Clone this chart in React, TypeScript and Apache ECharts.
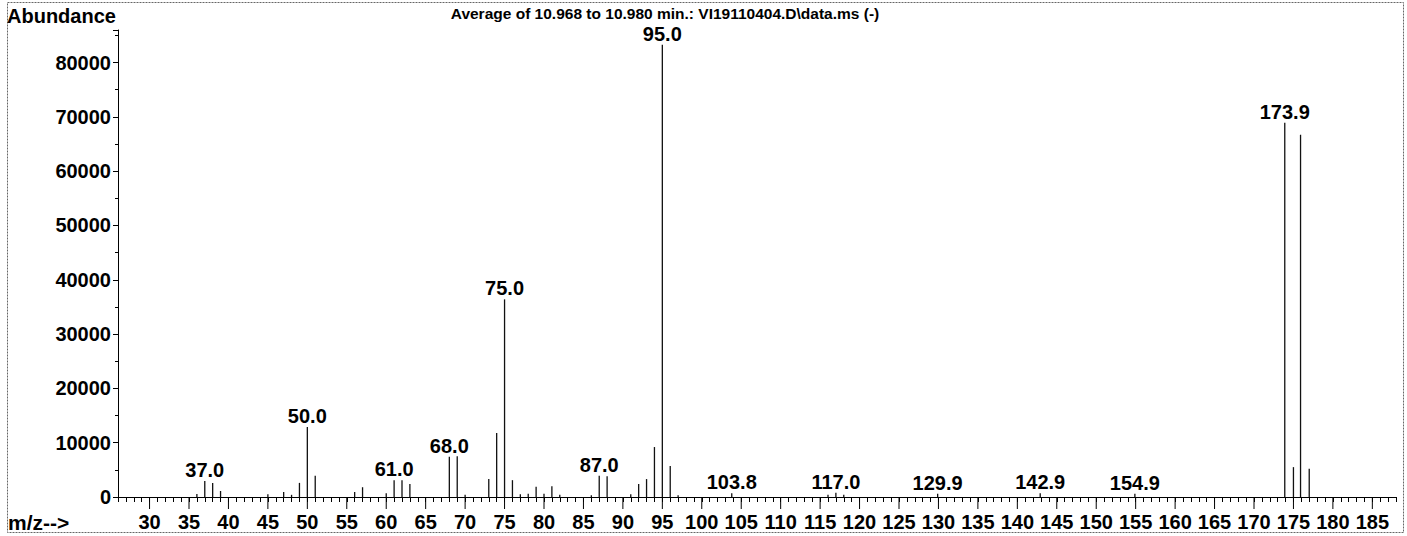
import React, { useEffect, useRef } from "react";
import * as echarts from "echarts";

// m/z values of the peaks and their abundances
const peakMz = [
  36, 37, 38, 39, 45, 47, 48, 49, 50, 51, 56, 57, 60, 61, 62, 63, 68, 69, 70,
  73, 74, 75, 76, 77, 78, 79, 80, 81, 82, 86, 87, 88, 91, 92, 93, 94, 95, 96, 97,
  103.8, 116, 117.0, 118, 129.9, 142.9, 154.9, 173.9, 175, 175.9, 177,
];
const peakAbundance = [
  550, 2950, 2600, 1100, 500, 900, 400, 2600, 12900, 3900, 900, 1800, 700, 3100, 3100, 2400, 7400, 7500, 400,
  3300, 11800, 36400, 3100, 500, 600, 1900, 600, 2000, 400, 300, 3900, 3800, 500, 2400, 3300, 9200, 83300, 5700, 300,
  700, 400, 800, 400, 600, 700, 600, 68900, 5500, 66700, 5200,
];
// peaks that carry an m/z label
const labelledMz = [37.0, 50.0, 61.0, 68.0, 75.0, 87.0, 95.0, 103.8, 117.0, 129.9, 142.9, 154.9, 173.9];
// x tick labels
const xTickLabels = [
  30, 35, 40, 45, 50, 55, 60, 65, 70, 75, 80, 85, 90, 95, 100, 105, 110, 115, 120,
  125, 130, 135, 140, 145, 150, 155, 160, 165, 170, 175, 180, 185,
];
// y tick labels
const yTickLabels = [0, 10000, 20000, 30000, 40000, 50000, 60000, 70000, 80000];

const TITLE = "Average of 10.968 to 10.980 min.: VI19110404.D\\data.ms (-)";
const FONT = "'Liberation Sans', Arial, sans-serif";

export default function App() {
  const ref = useRef<HTMLDivElement>(null);
  useEffect(() => {
    document.body.style.margin = "0";
    const chart = echarts.init(ref.current!, null, { renderer: "svg" });
    const peaks = peakMz.map((m, i) => [m, peakAbundance[i]]);
    const labels = labelledMz.map((m) => {
      const i = peakMz.findIndex((v) => Math.abs(v - m) < 1e-6);
      return [m, peakAbundance[i]];
    });
    chart.setOption({
      animation: false,
      backgroundColor: "#fff",
      grid: { left: 118, right: 11, top: 30, bottom: 39 },
      xAxis: {
        type: "value",
        min: 26,
        max: 188,
        interval: 1,
        axisLine: { show: true, lineStyle: { color: "#000", width: 1 } },
        axisTick: { show: true, length: 5, lineStyle: { color: "#000", width: 1 } },
        splitLine: { show: false },
        axisLabel: {
          margin: 15,
          fontFamily: FONT,
          fontSize: 20,
          fontWeight: "bold",
          color: "#000",
          formatter: (v: number) => (xTickLabels.includes(Math.round(v)) && Math.abs(v - Math.round(v)) < 1e-6 ? String(Math.round(v)) : ""),
        },
      },
      yAxis: {
        type: "value",
        min: 0,
        max: 86000,
        interval: 10000,
        axisLine: { show: true, lineStyle: { color: "#000", width: 1 } },
        axisTick: { show: true, length: 5, lineStyle: { color: "#000" } },
        minorTick: { show: true, splitNumber: 2, length: 3, lineStyle: { color: "#000" } },
        splitLine: { show: false },
        axisLabel: {
          margin: 7,
          showMaxLabel: false,
          fontFamily: FONT,
          fontSize: 20,
          fontWeight: "bold",
          color: "#000",
          formatter: (v: number) => (yTickLabels.includes(v) ? String(v) : ""),
        },
      },
      series: [
        {
          type: "custom",
          clip: false,
          data: xTickLabels.map((v) => [v, 0]),
          renderItem: (params: any, api: any) => {
            const p = api.coord([api.value(0), 0]);
            return {
              type: "line",
              shape: { x1: p[0], y1: p[1], x2: p[0], y2: p[1] + 12 },
              style: { stroke: "#000", lineWidth: 1 },
            };
          },
          silent: true,
        },
        {
          type: "custom",
          data: peaks,
          renderItem: (params: any, api: any) => {
            const x = api.value(0);
            const y = api.value(1);
            const p0 = api.coord([x, 0]);
            const p1 = api.coord([x, y]);
            return {
              type: "line",
              shape: { x1: p0[0], y1: p0[1], x2: p1[0], y2: p1[1] },
              style: { stroke: "#111", lineWidth: 1.3 },
            };
          },
        },
        {
          type: "scatter",
          symbolSize: 0,
          itemStyle: { opacity: 1, color: "#000" },
          data: labels,
          label: {
            show: true,
            position: "top",
            distance: 1,
            opacity: 1,
            fontFamily: FONT,
            fontSize: 20,
            fontWeight: "bold",
            color: "#000",
            textBorderWidth: 0,
            formatter: (p: any) => Number(p.value[0]).toFixed(1),
          },
        },
      ],
      graphic: [
        {
          type: "rect",
          shape: { x: 7.5, y: 2.5, width: 1396, height: 530 },
          style: { fill: "none", stroke: "#666", lineWidth: 1, lineDash: [2, 1] },
          silent: true,
        },
        {
          type: "text",
          style: { text: TITLE, x: 665, y: 13, textAlign: "center", textVerticalAlign: "middle", font: `bold 15.5px ${FONT}`, fill: "#000" },
        },
        {
          type: "text",
          style: { text: "Abundance", x: 7, y: 16, textAlign: "left", textVerticalAlign: "middle", font: `bold 20px ${FONT}`, fill: "#000" },
        },
        {
          type: "text",
          style: { text: "m/z-->", x: 8, y: 522, textAlign: "left", textVerticalAlign: "middle", font: `bold 21px ${FONT}`, fill: "#000" },
        },
      ],
    });
    return () => chart.dispose();
  }, []);
  return <div ref={ref} style={{ position: "absolute", left: 0, top: 0, width: 1407, height: 536 }} />;
}
